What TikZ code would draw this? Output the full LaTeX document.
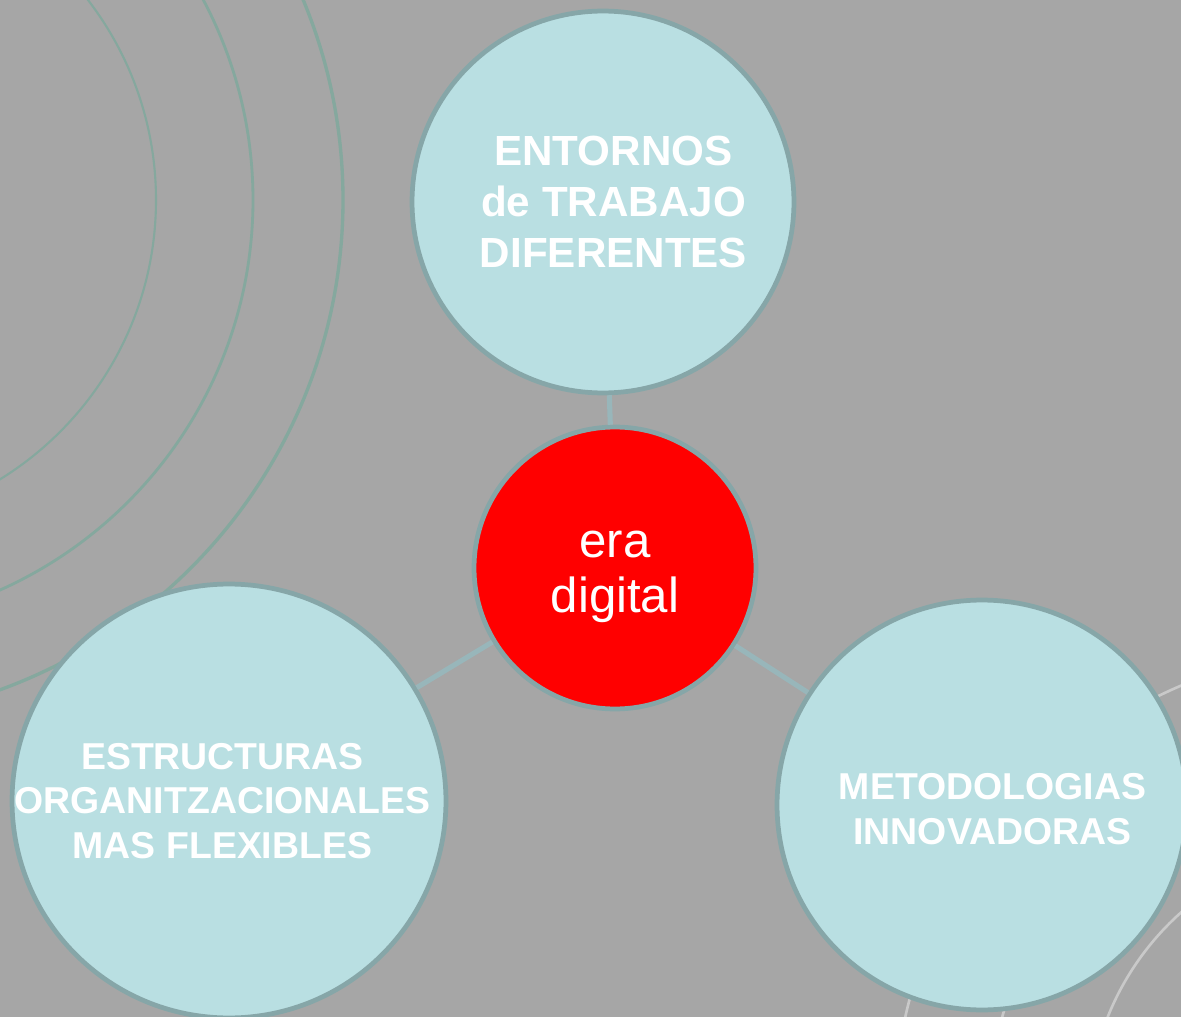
\documentclass[tikz,border=0pt]{standalone}
\usepackage{fontspec}
\setmainfont{Liberation Sans}
\usetikzlibrary{positioning}
\definecolor{bggray}{HTML}{A6A6A6}
\definecolor{bubblefill}{HTML}{B9DFE2}
\definecolor{bubbleedge}{HTML}{86A6A8}
\definecolor{linkline}{HTML}{98B6BA}
\definecolor{ringgreen}{HTML}{85A89E}
\definecolor{ringlight}{HTML}{C9C9C9}
\definecolor{erared}{HTML}{FF0000}

\begin{document}
\begin{tikzpicture}[x=0.02cm, y=-0.02cm,
    bubble/.style={circle, draw=bubbleedge, line width=2.7pt, fill=bubblefill, inner sep=0pt},
    bubbletext/.style={text=white, align=center, font=\fontsize{21.3}{25.5}\selectfont\bfseries},
    link/.style={draw=linkline, line width=2.9pt}]
    % Canvas
    \path[use as bounding box, clip] (0,0) rectangle (1181,1017);
    \fill[bggray] (0,0) rectangle (1181,1017);

    % Decorative rings (upper left)
    \draw[ringgreen, line width=1.2pt] (-172,200) circle[radius=328];
    \draw[ringgreen, line width=1.6pt] (-174,200) circle[radius=427];
    \draw[ringgreen, line width=1.9pt] (-178,200) circle[radius=521];

    % Decorative rings (lower right)
    \draw[ringlight, line width=1.5pt] (1366,1120) circle[radius=278];
    \draw[ringlight, line width=1.5pt] (1366,1120) circle[radius=378];
    \draw[ringlight, line width=1.5pt] (1366,1120) circle[radius=472];

    % Centre
    \node[bubble, fill=erared, minimum size=5.64cm] (era) at (615,568) {};
    \node[bubbletext, font=\fontsize{28}{31}\selectfont] (era-text)
        at ([yshift=-0.18cm]era.center) {era\\digital};

    % Outer bubbles
    \node[bubble, minimum size=7.64cm] (entornos) at (603,202) {};
    \node[bubble, minimum size=8.68cm] (estructuras) at (229,801) {};
    \node[bubble, minimum size=8.2cm] (metodologias) at (982,805) {};

    % Bubble texts
    \node[bubbletext, font=\fontsize{24}{29}\selectfont\bfseries] (entornos-text)
        at ([xshift=0.21cm]entornos.center) {ENTORNOS\\de TRABAJO\\DIFERENTES};
    \node[bubbletext] (estructuras-text) at ([xshift=-0.13cm]estructuras.center)
        {ESTRUCTURAS\\ORGANITZACIONALES\\MAS FLEXIBLES};
    \node[bubbletext] (metodologias-text) at ([xshift=0.21cm, yshift=-0.08cm]metodologias.center)
        {METODOLOGIAS\\INNOVADORAS};

    % Links
    \draw[link] (era) -- (entornos);
    \draw[link] (era) -- (estructuras);
    \draw[link] (era) -- (metodologias);
\end{tikzpicture}
\end{document}
